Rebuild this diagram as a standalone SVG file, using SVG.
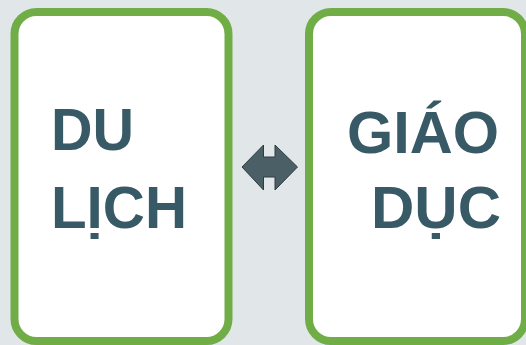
<svg xmlns="http://www.w3.org/2000/svg" width="526" height="345" viewBox="0 0 526 345">
<style>
.card{fill:#ffffff;stroke:#70ad47;stroke-width:8}
.lbl{font-family:"Liberation Sans",Arial,sans-serif;font-weight:bold;font-size:60px;fill:#385a66}
.arrow{fill:#4b5f67;stroke:#2e3c42;stroke-width:1}
</style>
<rect x="0" y="0" width="526" height="345" fill="#e1e6e9"/>
<g id="node-dulich">
<rect class="card" x="14.5" y="12" width="214" height="329" rx="22" ry="22"/>
<text class="lbl" x="51" y="150" textLength="83" lengthAdjust="spacingAndGlyphs">DU</text>
<text class="lbl" x="51" y="228" textLength="136" lengthAdjust="spacingAndGlyphs">LỊCH</text>
</g>
<g id="node-giaoduc">
<rect class="card" x="309" y="12" width="216" height="329" rx="22" ry="22"/>
<text class="lbl" x="347" y="153" textLength="152" lengthAdjust="spacingAndGlyphs">GIÁO</text>
<text class="lbl" x="371" y="228" textLength="130" lengthAdjust="spacingAndGlyphs">DỤC</text>
</g>
<g id="connectors">
<polygon class="arrow" points="242,167 263.5,145 263.5,157 275,157 275,145 297.5,167 275,190 275,177 263.5,177 263.5,190"/>
</g>
</svg>
